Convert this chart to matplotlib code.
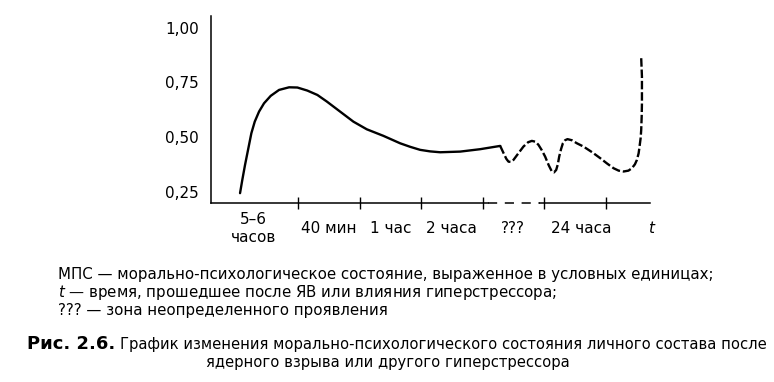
import numpy as np
import matplotlib as mpl
mpl.use('Agg')
import matplotlib.pyplot as plt
from matplotlib.transforms import blended_transform_factory

mpl.rcParams.update({'font.size': 11, 'font.family': 'DejaVu Sans',
                     'mathtext.fontset': 'dejavusans'})

# y axis (MPS, conventional units)
y_ticks = [0.25, 0.50, 0.75, 1.00]
y_ticklabels = ["0,25", "0,50", "0,75", "1,00"]

# x axis: tick marks at interval borders, labels in between
x_ticks = [1, 2, 3, 4, 5, 6]
x_label_pos = [0.28, 1.5, 2.5, 3.5, 4.5, 5.6]
x_labels = ["5\u20136\nчасов", "40 мин", "1 час", "2 часа", "???", "24 часа"]

# solid part of the curve
solid_x = [0.057, 0.094, 0.138, 0.187, 0.241, 0.296, 0.366, 0.447, 0.556, 0.691, 0.854,
           0.989, 1.151, 1.314, 1.467, 1.683, 1.899, 2.117, 2.387, 2.659, 2.821,
           2.984, 3.146, 3.309, 3.634, 3.959, 4.285]
solid_y = [0.243, 0.304, 0.372, 0.441, 0.517, 0.570, 0.616, 0.654, 0.688, 0.715, 0.727,
           0.726, 0.712, 0.692, 0.662, 0.616, 0.570, 0.535, 0.505, 0.471, 0.455,
           0.441, 0.434, 0.430, 0.433, 0.444, 0.459]

# dashed part: zone of uncertain manifestation
dash_x = [4.285, 4.340, 4.385, 4.420, 4.460, 4.501, 4.580, 4.663, 4.740, 4.800, 4.860,
          4.907, 4.960, 5.016, 5.075, 5.125, 5.160, 5.195, 5.222, 5.244, 5.275,
          5.304, 5.340, 5.379, 5.450, 5.532, 5.639, 5.780, 5.911, 6.020, 6.128,
          6.210, 6.290, 6.370, 6.426, 6.475, 6.507, 6.535, 6.550, 6.568, 6.577,
          6.585, 6.589, 6.589, 6.577]
dash_y = [0.459, 0.426, 0.400, 0.387, 0.386, 0.395, 0.425, 0.456, 0.476, 0.482, 0.478,
          0.464, 0.440, 0.410, 0.370, 0.342, 0.338, 0.349, 0.375, 0.410, 0.445,
          0.471, 0.485, 0.490, 0.485, 0.471, 0.456, 0.430, 0.403, 0.379, 0.357,
          0.346, 0.342, 0.346, 0.357, 0.375, 0.395, 0.425, 0.456, 0.495, 0.532,
          0.595, 0.654, 0.776, 0.860]

xlim = (-0.415, 6.72)
ylim = (0.198, 1.053)

fig = plt.figure(figsize=(7.74, 3.82), dpi=100)
ax = fig.add_axes([211 / 774, 1 - 203 / 382, (650 - 211) / 774, (203 - 16) / 382])
ax.set_xlim(*xlim)
ax.set_ylim(*ylim)

ax.plot(solid_x, solid_y, color='black', lw=1.7, solid_joinstyle='round', solid_capstyle='round')
ax.plot(dash_x, dash_y, color='black', lw=1.7, linestyle=(0, (3.6, 1.2)))

for s in ['top', 'right', 'bottom']:
    ax.spines[s].set_visible(False)
ax.spines['left'].set_linewidth(1.1)

# x axis line, dashed between 4 and 5
ax.plot([xlim[0], x_ticks[3] + 0.08], [ylim[0]] * 2, color='black', lw=1.1, clip_on=False)
ax.plot([x_ticks[3] + 0.08, x_ticks[4] - 0.06], [ylim[0]] * 2, color='black', lw=1.1,
        linestyle=(0, (6, 5)), clip_on=False)
ax.plot([x_ticks[4] - 0.06, xlim[1]], [ylim[0]] * 2, color='black', lw=1.1, clip_on=False)

ax.set_yticks(y_ticks)
ax.set_yticklabels(y_ticklabels)
ax.tick_params(axis='y', length=0, pad=8.5, labelsize=11)
ax.set_xticks(x_ticks)
ax.set_xticklabels([])
ax.tick_params(axis='x', direction='inout', length=8, width=1.0)

trans = blended_transform_factory(ax.transData, ax.transAxes)
for xp, lab in zip(x_label_pos, x_labels):
    ax.text(xp, -0.139, lab, transform=trans, ha='center', va='center', fontsize=11,
            linespacing=1.25)
ax.text(6.74, -0.139, "t", transform=trans, ha='center', va='center', fontsize=11,
        style='italic')

# legend notes and caption
fig.text(58 / 774, 1 - 275 / 382, "МПС \u2014 морально-психологическое состояние, выраженное в условных единицах;",
         ha='left', va='center', fontsize=10.8)
fig.text(58 / 774, 1 - 292 / 382, "$t$ \u2014 время, прошедшее после ЯВ или влияния гиперстрессора;",
         ha='left', va='center', fontsize=10.8)
fig.text(58 / 774, 1 - 310 / 382, "??? \u2014 зона неопределенного проявления",
         ha='left', va='center', fontsize=10.8)
fig.text(115 / 774, 1 - 344 / 382, "Рис. 2.6.", ha='right', va='center', fontsize=13,
         fontweight='bold')
fig.text(120 / 774, 1 - 344 / 382,
         "График изменения морально-психологического состояния личного состава после",
         ha='left', va='center', fontsize=10.65)
fig.text(388 / 774, 1 - 362 / 382, "ядерного взрыва или другого гиперстрессора",
         ha='center', va='center', fontsize=10.65)

fig.savefig("out.png", dpi=100)
